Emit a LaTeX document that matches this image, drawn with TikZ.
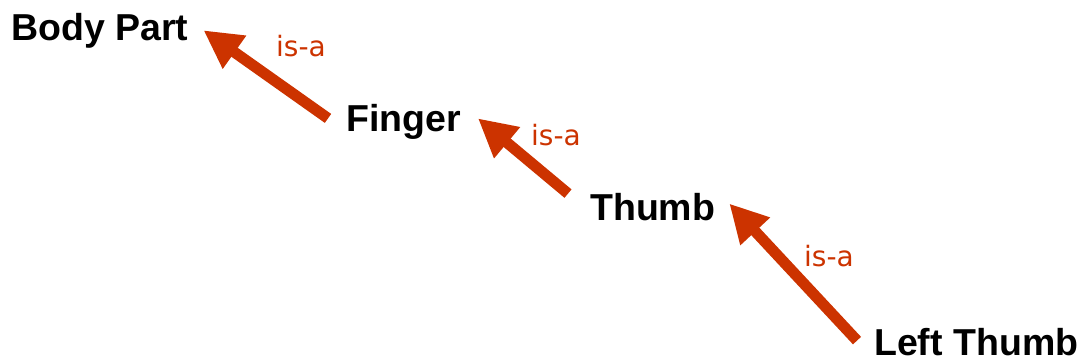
\documentclass[tikz,border=0pt]{standalone}
\usepackage{fontspec}
\setmainfont{Liberation Sans}
\newfontfamily\isafont{DejaVu Sans}
\usetikzlibrary{arrows.meta}

\definecolor{isared}{RGB}{204,51,0}

\tikzset{
  concept/.style={inner sep=0pt, anchor=base west, font=\fontsize{37.5}{42}\selectfont\bfseries},
  isa/.style={draw=isared, line width=11pt, -{Triangle[length=38pt,width=38pt]}},
  isalabel/.style={inner sep=0pt, text=isared, font=\isafont\fontsize{28}{32}\selectfont}
}

\begin{document}
\begin{tikzpicture}[x=1pt, y=-1pt]
  \useasboundingbox (0, 0) rectangle (1077, 360);

  % Concepts
  \node[concept] (bodypart) at (11, 40) {Body Part};
  \node[concept] (finger) at (346, 131) {Finger};
  \node[concept] (thumb) at (590, 220) {Thumb};
  \node[concept] (leftthumb) at (874, 355) {Left Thumb};

  % Routings
  \draw[isa] ([shift={(-18, -3)}]finger.west) -- ([shift={(15, 0)}]bodypart.east); % Finger to Body Part
  \draw[isa] ([shift={(-22, -13)}]thumb.west) -- ([shift={(17, -3)}]finger.east); % Thumb to Finger
  \draw[isa] ([shift={(-17, -1)}]leftthumb.west) -- ([shift={(14, -3)}]thumb.east); % Left Thumb to Thumb

  % Labels
  \node[isalabel] (isa1) at (301, 46) {is-a};
  \node[isalabel] (isa2) at (556, 135) {is-a};
  \node[isalabel] (isa3) at (829, 256) {is-a};
\end{tikzpicture}
\end{document}
